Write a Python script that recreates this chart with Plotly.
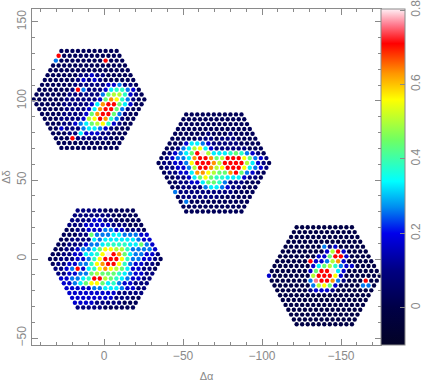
import plotly.graph_objects as go

# Flux level of each fibre, row by row from the top of each hexagon.
LEVELS = {"0": 0.0, "1": 0.03, "2": 0.09, "3": 0.17, "4": 0.26, "5": 0.33, "6": 0.38, "7": 0.44,
          "8": 0.50, "9": 0.56, "o": 0.63, "r": 0.71, "p": 0.76, "w": 0.80}

IFU_NW = [
    "11111111111",
    "r11111111111",
    "411111111r111",
    "11111111111111",
    "111111111111111",
    "1111112232211111",
    "11111123232111111",
    "111111222222334221",
    "1111112r42223566431",
    "11111122222247886321",
    "111111222222" "37o964211",
    "11111222223" "5orr75" "311",
    "1111122223" "5orr74" "211",
    "111122223" "7orr74" "211",
    "11122223" "89ro64" "211",
    "111223" "4578963" "211",
    "113222" "4554" "32111",
    "11122" "533" "322111",
    "111r222222111",
    "111111111111",
    "11111111111",
]
IFU_C = [
    "11111111111",
    "111111111111",
    "1111111111111",
    "11111111111111",
    "111111211121111",
    "1111122212221111",
    "111" "35543" "222221111",
    "112" "458953" "222222111",
    "12345" "7rw8" "5556" "764" "321",
    "123445" "orr" "o78" "rrr" "97" "432",
    "122334" "9rrro8rrrr8" "5321",
    "12233" "48rro89rrr9" "5432",
    "12233" "5oo9877or74" "321",
    "11223" "579766555" "3221",
    "112233" "57764" "222111",
    "112222" "4554" "322111",
    "422222222221111",
    "12222222111111",
    "1411111111111",
    "111111111111",
    "11111111111",
]
IFU_SW = [
    "22222111111",
    "222222211111",
    "2222332211111",
    "22233333222111",
    "112233344332221",
    "11122" "74445544433",
    "112222" "54555555433",
    "112223" "445666655743",
    "11223" "44579988644443",
    "112233" "5569wro7544332",
    "11222" "33469rrr96" "443321",
    "122" "33446" "9orr96" "433221",
    "223" "4r3569o9875" "33221",
    "2233" "4478777654" "3322",
    "3344" "56rr87654" "3322",
    "33" "45799756" "4" "33" "222",
    "333334455543322",
    "33333333322222",
    "3333333322211",
    "333322222111",
    "22222111111",
]
IFU_SE = [
    "00000000000",
    "000000000000",
    "0000000000000",
    "00000000000000",
    "0000000" "423" "00000",
    "00000000" "38r3" "0000",
    "0000000" "337rr3" "0000",
    "000000" "r3348o3" "00000",
    "0000000" "35786433" "0000",
    "0000000" "37rrw53" "000000",
    "3" "0000000" "8rrr93" "0000000",
    "0000000" "4prro42" "000" "r" "00",
    "0000000" "48973" "0000" "44" "0",
    "000000" "23332" "0000000",
    "00000000000000000",
    "0000000000000000",
    "000000000000000",
    "00000000000000",
    "0000000000000",
    "000000000000",
    "00000000000",
]

IFU_NAMES = ["IFU_NW", "IFU_C", "IFU_SW", "IFU_SE"]
IFU_ROWS = [IFU_NW, IFU_C, IFU_SW, IFU_SE]
IFU_X = [9.5, -69.5, -0.8, -139.4]
IFU_Y = [101.0, 60.8, 0.0, -10.6]
FIBRE_DX = 3.5
FIBRE_DY = 3.07
GREY = "#8a8a8a"
FONT = "Liberation Sans"

CMIN, CMAX = -0.1, 0.803
COLORS = [
    (CMIN, "rgb(3,3,38)"), (0.00, "rgb(0,0,70)"), (0.10, "rgb(0,0,130)"), (0.20, "rgb(0,0,235)"),
    (0.27, "rgb(0,140,240)"), (0.34, "rgb(0,255,255)"), (0.45, "rgb(110,255,100)"),
    (0.56, "rgb(255,255,0)"), (0.63, "rgb(255,150,0)"), (0.71, "rgb(255,0,0)"),
    (0.76, "rgb(255,120,140)"), (CMAX, "rgb(255,240,245)"),
]

fig = go.Figure()
for name, rows, cx, cy in zip(IFU_NAMES, IFU_ROWS, IFU_X, IFU_Y):
    xs, ys, vs = [], [], []
    for i, row in enumerate(rows):
        n = 11 + min(i, 20 - i)
        assert len(row) == n, (name, i, len(row), n)
        for k, ch in enumerate(row):
            # The RA axis runs right to left, so the fibres are listed from the high end.
            xs.append(cx - (k - (n - 1) / 2) * FIBRE_DX)
            ys.append(cy + (10 - i) * FIBRE_DY)
            vs.append(LEVELS[ch])
    fig.add_trace(go.Scatter(x=xs, y=ys, mode="markers", name=name, showlegend=False, hoverinfo="skip",
                             marker=dict(size=4.4, color=vs, coloraxis="coloraxis", line=dict(width=0))))

axis = dict(showgrid=False, zeroline=False, showline=True, linecolor=GREY, linewidth=1, mirror="ticks",
            ticks="inside", ticklen=6, tickcolor=GREY, tickwidth=1, dtick=50, automargin=False,
            minor=dict(ticks="inside", ticklen=3, dtick=10, tickcolor=GREY, tickwidth=1, showgrid=False),
            tickfont=dict(family=FONT, size=12, color=GREY),
            title_font=dict(family=FONT, size=11, color=GREY))
fig.update_layout(
    width=422, height=382, margin=dict(l=32, r=41, t=9, b=37, autoexpand=False),
    paper_bgcolor="white", plot_bgcolor="white", font=dict(family=FONT, color=GREY),
    xaxis=dict(axis, range=[45.6, -175.3], title=dict(text="Δα", standoff=12)),
    yaxis=dict(axis, range=[-54.4, 158.2], tickangle=-90, title=dict(text="Δδ", standoff=5)),
    coloraxis=dict(
        cmin=CMIN, cmax=CMAX,
        colorscale=[[(v - CMIN) / (CMAX - CMIN), c] for v, c in COLORS],
        colorbar=dict(thickness=24, thicknessmode="pixels", len=1, lenmode="fraction", x=1, xanchor="left",
                      xpad=0, y=0, yanchor="bottom", ypad=0, outlinecolor=GREY, outlinewidth=1,
                      ticks="inside", ticklen=5, tickcolor=GREY, tick0=0, dtick=0.2, tickangle=-90,
                      ticklabeloverflow="allow",
                      tickfont=dict(family=FONT, size=12, color=GREY)),
    ),
)
fig.write_html("out.html", config={"displayModeBar": False},
               post_script="document.body.style.margin='0';document.documentElement.style.overflow='hidden';")
